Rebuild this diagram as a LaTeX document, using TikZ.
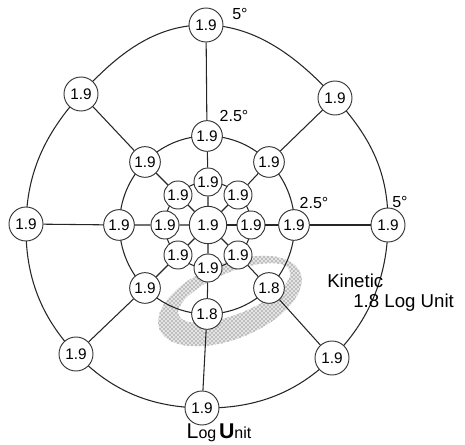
\documentclass[tikz,border=0pt]{standalone}
\usepackage{fontspec}
\setmainfont{Liberation Sans}
\usetikzlibrary{patterns}
\begin{document}
\begin{tikzpicture}[x=0.75pt,y=-0.75pt,
  ring/.style={line width=0.8pt, black!85},
  spoke/.style={line width=0.8pt, black!85},
  val/.style={circle, draw=black!80, line width=0.7pt, fill=white, inner sep=0pt,
              font=\fontsize{11.5}{12}\selectfont},
  centernode/.style={val, minimum size=28pt},
  innernode/.style={val, minimum size=21pt},
  midnode/.style={val, minimum size=23pt},
  outernode/.style={val, minimum size=25.5pt},
  lab/.style={font=\fontsize{12}{14}\selectfont, inner sep=0pt},
  biglab/.style={font=\fontsize{14}{16}\selectfont, inner sep=0pt},
]
\useasboundingbox (0,0) rectangle (465,445);

% positions: centre, inner ring, 2.5 degree ring, 5 degree ring
\coordinate (pC) at (208,225);
\coordinate (pIT) at (208,182);  \coordinate (pIUR) at (238,195);
\coordinate (pIR) at (251,225);  \coordinate (pILR) at (238,255);
\coordinate (pIB) at (208,268);  \coordinate (pILL) at (178,255);
\coordinate (pIL) at (165,225);  \coordinate (pIUL) at (178,195);

\coordinate (pMT) at (207,136);  \coordinate (pMUR) at (269,162);
\coordinate (pMR) at (294,225);  \coordinate (pMLR) at (269,288);
\coordinate (pMB) at (207,314);  \coordinate (pMLL) at (145,288);
\coordinate (pML) at (119,225);  \coordinate (pMUL) at (145,162);

\coordinate (pOT) at (206,25);   \coordinate (pOUR) at (335,98);
\coordinate (pOR) at (388,225);  \coordinate (pOLR) at (332,358);
\coordinate (pOB) at (202,408);  \coordinate (pOLL) at (76,354);
\coordinate (pOL) at (26,224);   \coordinate (pOUL) at (81,94);

% stippled kinetic area: a tilted elliptic band
\begin{scope}[shift={(230,301)}, rotate=22]
  \fill[black!10, even odd rule]
    (0,0) ellipse (76 and 38) (7,-6) ellipse (60 and 21);
  \fill[pattern=crosshatch dots, pattern color=black!75, even odd rule]
    (0,0) ellipse (76 and 38) (7,-6) ellipse (60 and 21);
\end{scope}

% isopter rings
\draw[ring] plot[smooth cycle, tension=0.72] coordinates {(pOT) (pOUR) (pOR) (pOLR) (pOB) (pOLL) (pOL) (pOUL)};
\draw[ring] (207,225) ellipse (87.5 and 89);
\draw[ring] (208,225) ellipse (43 and 43);

% test points
\node[centernode] (C) at (pC) {1.9};
\foreach \n in {IT,IUR,IR,ILR,IB,ILL,IL,IUL}
  \node[innernode] (\n) at (p\n) {1.9};
\foreach \n in {MT,MUR,MR,MLL,ML,MUL}
  \node[midnode] (\n) at (p\n) {1.9};
\node[midnode] (MLR) at (pMLR) {1.8};
\node[midnode] (MB) at (pMB) {1.8};
\foreach \n in {OT,OUR,OR,OLR,OB,OLL,OL,OUL}
  \node[outernode] (\n) at (p\n) {1.9};

% meridians
\foreach \d in {T,UR,R,LR,B,LL,L,UL}
  \draw[spoke] (C) -- (I\d) (I\d) -- (M\d) (M\d) -- (O\d);

% labels
\node[lab] (degOT) at (240,14) {5°};
\node[lab] (degMT) at (234,116) {2.5°};
\node[lab] (degMR) at (314,203) {2.5°};
\node[lab] (degOR) at (400,202) {5°};
\node[biglab, anchor=west] (kin) at (327,281) {Kinetic};
\node[biglab, anchor=west] (kinval) at (353,303) {1.8\ Log Unit};
\node[lab] (unitlab) at (219,433) {{\fontsize{16}{16}\selectfont L}og\,{\fontsize{16}{16}\selectfont\bfseries U}nit};
\end{tikzpicture}
\end{document}
